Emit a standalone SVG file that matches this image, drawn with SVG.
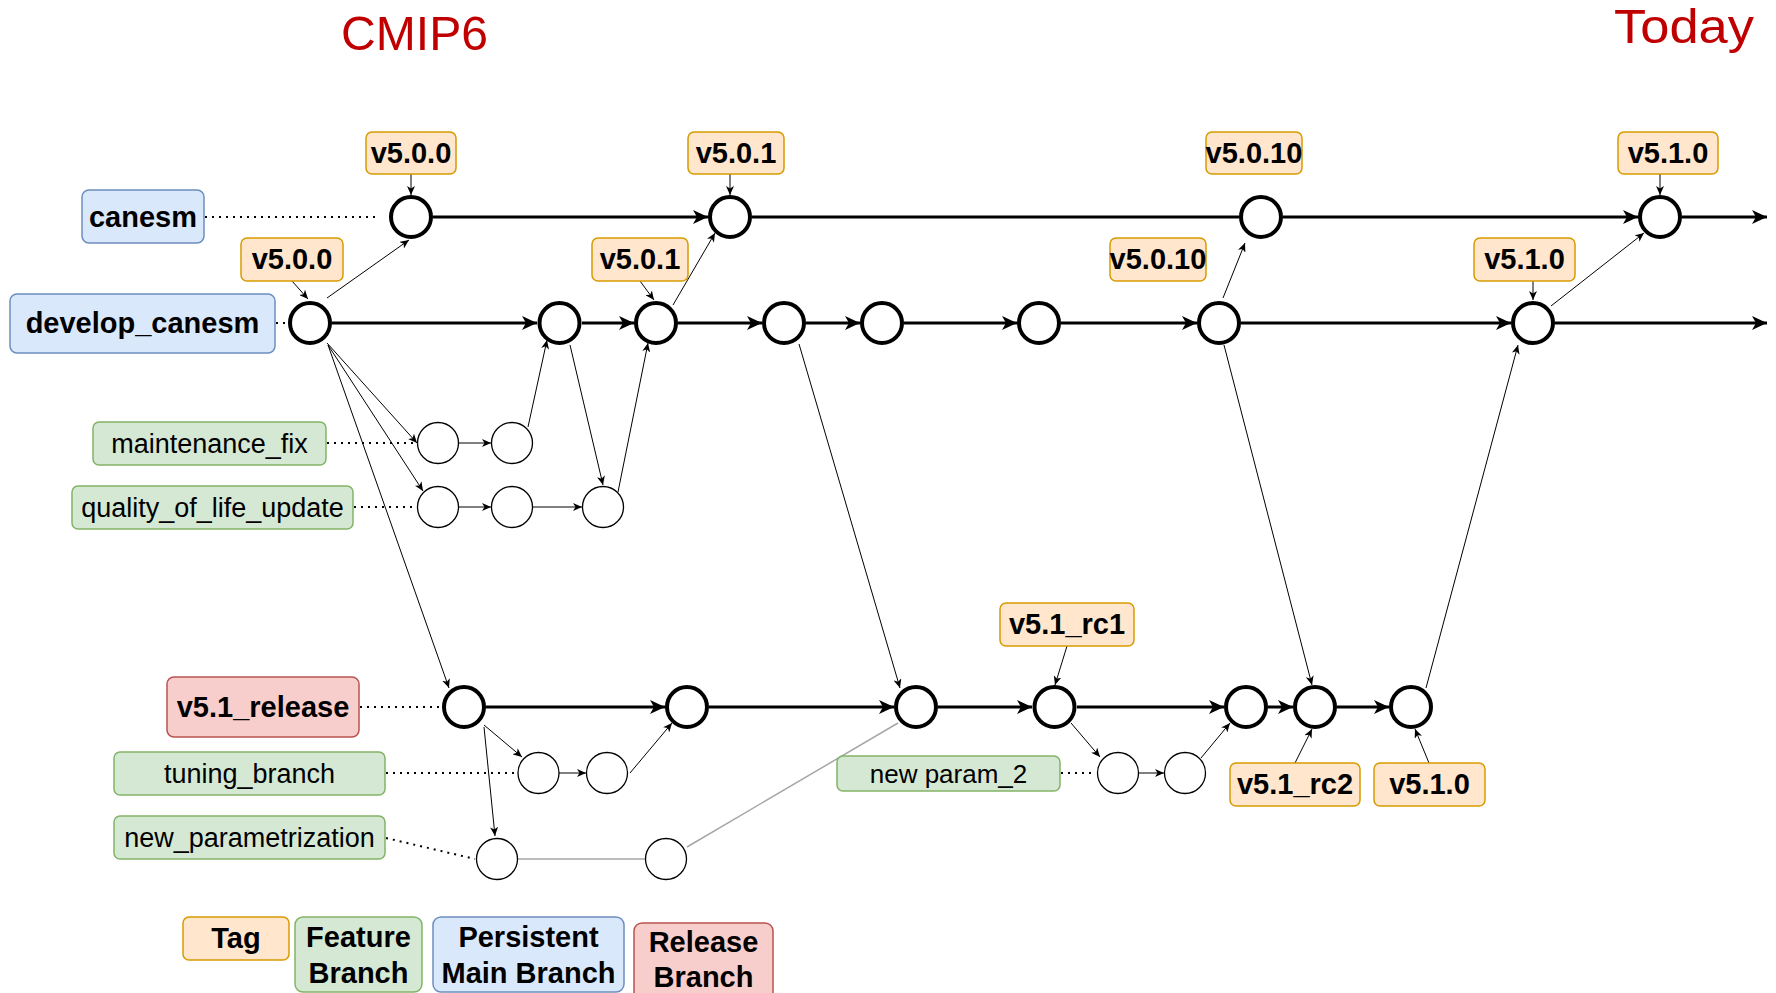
<svg xmlns="http://www.w3.org/2000/svg" width="1776" height="993" viewBox="0 0 1776 993">
<style>
text{font-family:"Liberation Sans",Arial,sans-serif;fill:#000}
.b{font-weight:bold;font-size:29px;text-anchor:middle}
.r{font-size:27px;text-anchor:middle}
.title{font-size:48px;fill:#C00000}
.tag{fill:#FFE6CC;stroke:#D79B00;stroke-width:1.5}
.feat{fill:#D5E8D4;stroke:#82B366;stroke-width:1.5}
.main{fill:#DAE8FC;stroke:#6C8EBF;stroke-width:1.5}
.rel{fill:#F8CECC;stroke:#B85450;stroke-width:1.5}
.bn{fill:#fff;stroke:#000;stroke-width:4}
.sn{fill:#fff;stroke:#000;stroke-width:1.3}
.bl{stroke:#000;stroke-width:3;fill:none}
.tl{stroke:#000;stroke-width:1;fill:none}
.dot{stroke:#000;stroke-width:2;stroke-dasharray:2 5;fill:none}
.gray{stroke:#A6A6A6;stroke-width:1.5;fill:none}
</style>
<defs>
<marker id="big" markerUnits="userSpaceOnUse" markerWidth="16" markerHeight="14" refX="15" refY="7" orient="auto">
<path d="M0,0 L15,7 L0,14 L4,7 z" fill="#000"/>
</marker>
<marker id="sm" markerUnits="userSpaceOnUse" markerWidth="10" markerHeight="8" refX="9" refY="4" orient="auto">
<path d="M0,0 L9,4 L0,8 L2.5,4 z" fill="#000"/>
</marker>
</defs>
<rect width="1776" height="993" fill="#fff"/>
<text class="title" x="341" y="50" textLength="147" lengthAdjust="spacingAndGlyphs">CMIP6</text>
<text class="title" x="1614" y="43" textLength="140" lengthAdjust="spacingAndGlyphs">Today</text>

<g id="connectors">
<line class="dot" x1="205" y1="217" x2="380" y2="217"/>
<line class="dot" x1="276" y1="323" x2="290" y2="323"/>
<line class="dot" x1="327" y1="443" x2="416" y2="443"/>
<line class="dot" x1="354" y1="507" x2="416" y2="507"/>
<line class="dot" x1="360" y1="707" x2="442" y2="707"/>
<line class="dot" x1="386" y1="773" x2="517" y2="773"/>
<line class="dot" x1="386" y1="838" x2="475" y2="859"/>
<line class="dot" x1="1061" y1="773" x2="1096" y2="773"/>
<line class="bl" x1="433" y1="217" x2="708" y2="217" marker-end="url(#big)"/>
<line class="bl" x1="752" y1="217" x2="1239" y2="217"/>
<line class="bl" x1="1283" y1="217" x2="1638" y2="217" marker-end="url(#big)"/>
<line class="bl" x1="1682" y1="217" x2="1767" y2="217" marker-end="url(#big)"/>
<line class="bl" x1="332" y1="323" x2="537" y2="323" marker-end="url(#big)"/>
<line class="bl" x1="582" y1="323" x2="634" y2="323" marker-end="url(#big)"/>
<line class="bl" x1="678" y1="323" x2="762" y2="323" marker-end="url(#big)"/>
<line class="bl" x1="806" y1="323" x2="860" y2="323" marker-end="url(#big)"/>
<line class="bl" x1="904" y1="323" x2="1017" y2="323" marker-end="url(#big)"/>
<line class="bl" x1="1061" y1="323" x2="1197" y2="323" marker-end="url(#big)"/>
<line class="bl" x1="1241" y1="323" x2="1511" y2="323" marker-end="url(#big)"/>
<line class="bl" x1="1555" y1="323" x2="1767" y2="323" marker-end="url(#big)"/>
<line class="bl" x1="486" y1="707" x2="665" y2="707" marker-end="url(#big)"/>
<line class="bl" x1="709" y1="707" x2="894" y2="707" marker-end="url(#big)"/>
<line class="bl" x1="938" y1="707" x2="1032" y2="707" marker-end="url(#big)"/>
<line class="bl" x1="1077" y1="707" x2="1224" y2="707" marker-end="url(#big)"/>
<line class="bl" x1="1268" y1="707" x2="1293" y2="707" marker-end="url(#big)"/>
<line class="bl" x1="1337" y1="707" x2="1389" y2="707" marker-end="url(#big)"/>
<line class="tl" x1="459" y1="443" x2="491" y2="443" marker-end="url(#sm)"/>
<line class="tl" x1="459" y1="507" x2="491" y2="507" marker-end="url(#sm)"/>
<line class="tl" x1="533" y1="507" x2="582" y2="507" marker-end="url(#sm)"/>
<line class="tl" x1="559" y1="773" x2="586" y2="773" marker-end="url(#sm)"/>
<line class="tl" x1="1139" y1="773" x2="1164" y2="773" marker-end="url(#sm)"/>
<line class="gray" x1="518" y1="859" x2="645" y2="859"/>
<line class="tl" x1="327" y1="298" x2="409" y2="240" marker-end="url(#sm)"/>
<line class="tl" x1="673" y1="305" x2="715" y2="233" marker-end="url(#sm)"/>
<line class="tl" x1="1223" y1="298" x2="1245" y2="243" marker-end="url(#sm)"/>
<line class="tl" x1="1551" y1="306" x2="1644" y2="233" marker-end="url(#sm)"/>
<line class="tl" x1="327" y1="343" x2="417" y2="443" marker-end="url(#sm)"/>
<line class="tl" x1="328" y1="345" x2="423" y2="491" marker-end="url(#sm)"/>
<line class="tl" x1="328" y1="345" x2="449" y2="688" marker-end="url(#sm)"/>
<line class="tl" x1="528" y1="427" x2="547" y2="340" marker-end="url(#sm)"/>
<line class="tl" x1="570" y1="345" x2="603" y2="485" marker-end="url(#sm)"/>
<line class="tl" x1="618" y1="492" x2="648" y2="343" marker-end="url(#sm)"/>
<line class="tl" x1="799" y1="344" x2="900" y2="688" marker-end="url(#sm)"/>
<line class="tl" x1="1224" y1="345" x2="1312" y2="685" marker-end="url(#sm)"/>
<line class="tl" x1="1426" y1="688" x2="1518" y2="345" marker-end="url(#sm)"/>
<line class="tl" x1="484" y1="725" x2="522" y2="757" marker-end="url(#sm)"/>
<line class="tl" x1="484" y1="727" x2="495" y2="836" marker-end="url(#sm)"/>
<line class="tl" x1="630" y1="773" x2="672" y2="723" marker-end="url(#sm)"/>
<line class="gray" x1="687" y1="847" x2="898" y2="723" stroke-width="1"/>
<line class="tl" x1="1071" y1="723" x2="1100" y2="757" marker-end="url(#sm)"/>
<line class="tl" x1="1201" y1="758" x2="1230" y2="723" marker-end="url(#sm)"/>
<line class="tl" x1="411" y1="174" x2="411" y2="195" marker-end="url(#sm)"/>
<line class="tl" x1="730" y1="174" x2="730" y2="195" marker-end="url(#sm)"/>
<line class="tl" x1="1660" y1="174" x2="1660" y2="195" marker-end="url(#sm)"/>
<line class="tl" x1="292" y1="281" x2="308" y2="299" marker-end="url(#sm)"/>
<line class="tl" x1="640" y1="281" x2="654" y2="300" marker-end="url(#sm)"/>
<line class="tl" x1="1533" y1="281" x2="1533" y2="300" marker-end="url(#sm)"/>
<line class="tl" x1="1067" y1="646" x2="1055" y2="685" marker-end="url(#sm)"/>
<line class="tl" x1="1295" y1="763" x2="1312" y2="729" marker-end="url(#sm)"/>
<line class="tl" x1="1429" y1="763" x2="1415" y2="729" marker-end="url(#sm)"/>
</g>

<g id="branch-labels">
<g id="lbl-canesm"><rect class="main" x="82" y="190" width="122" height="53" rx="7"/><text class="b" x="143" y="227">canesm</text></g>
<g id="lbl-develop"><rect class="main" x="10" y="294" width="265" height="59" rx="7"/><text class="b" x="142.5" y="333">develop_canesm</text></g>
<g id="lbl-maint"><rect class="feat" x="93" y="422" width="233" height="43" rx="6"/><text class="r" x="209.5" y="453">maintenance_fix</text></g>
<g id="lbl-qol"><rect class="feat" x="72" y="486" width="281" height="43" rx="6"/><text class="r" x="212.5" y="517">quality_of_life_update</text></g>
<g id="lbl-release"><rect class="rel" x="167" y="677" width="192" height="60" rx="7"/><text class="b" x="263" y="717">v5.1_release</text></g>
<g id="lbl-tuning"><rect class="feat" x="114" y="752" width="271" height="43" rx="6"/><text class="r" x="249.5" y="783">tuning_branch</text></g>
<g id="lbl-newparam"><rect class="feat" x="114" y="816" width="271" height="43" rx="6"/><text class="r" x="249.5" y="847">new_parametrization</text></g>
<g id="lbl-newparam2"><rect class="feat" x="837" y="756" width="223" height="35" rx="6"/><text class="r" x="948.5" y="783" style="font-size:26px">new param_2</text></g>
</g>

<g id="tags">
<g id="tag-c-500"><rect class="tag" x="366" y="132" width="90" height="42" rx="6"/><text class="b" x="411" y="163">v5.0.0</text></g>
<g id="tag-c-501"><rect class="tag" x="688" y="132" width="96" height="42" rx="6"/><text class="b" x="736" y="163">v5.0.1</text></g>
<g id="tag-c-5010"><rect class="tag" x="1206" y="132" width="96" height="42" rx="6"/><text class="b" x="1254" y="163">v5.0.10</text></g>
<g id="tag-c-510"><rect class="tag" x="1618" y="132" width="100" height="42" rx="6"/><text class="b" x="1668" y="163">v5.1.0</text></g>
<g id="tag-d-500"><rect class="tag" x="241" y="238" width="102" height="43" rx="6"/><text class="b" x="292" y="269">v5.0.0</text></g>
<g id="tag-d-501"><rect class="tag" x="592" y="238" width="96" height="43" rx="6"/><text class="b" x="640" y="269">v5.0.1</text></g>
<g id="tag-d-5010"><rect class="tag" x="1110" y="238" width="96" height="43" rx="6"/><text class="b" x="1158" y="269">v5.0.10</text></g>
<g id="tag-d-510"><rect class="tag" x="1474" y="238" width="101" height="43" rx="6"/><text class="b" x="1524.5" y="269">v5.1.0</text></g>
<g id="tag-rc1"><rect class="tag" x="1000" y="603" width="134" height="43" rx="6"/><text class="b" x="1067" y="634">v5.1_rc1</text></g>
<g id="tag-rc2"><rect class="tag" x="1230" y="763" width="130" height="43" rx="6"/><text class="b" x="1295" y="794">v5.1_rc2</text></g>
<g id="tag-r-510"><rect class="tag" x="1374" y="763" width="111" height="43" rx="6"/><text class="b" x="1429.5" y="794">v5.1.0</text></g>
</g>

<g id="nodes">
<g id="canesm-commits">
<circle class="bn" cx="411" cy="217" r="20"/><circle class="bn" cx="730" cy="217" r="20"/><circle class="bn" cx="1261" cy="217" r="20"/><circle class="bn" cx="1660" cy="217" r="20"/>
</g>
<g id="develop-commits">
<circle class="bn" cx="310" cy="323" r="20"/><circle class="bn" cx="559.5" cy="323" r="20"/><circle class="bn" cx="656" cy="323" r="20"/><circle class="bn" cx="784" cy="323" r="20"/><circle class="bn" cx="882" cy="323" r="20"/><circle class="bn" cx="1039" cy="323" r="20"/><circle class="bn" cx="1219" cy="323" r="20"/><circle class="bn" cx="1533" cy="323" r="20"/>
</g>
<g id="release-commits">
<circle class="bn" cx="464" cy="707" r="20"/><circle class="bn" cx="687" cy="707" r="20"/><circle class="bn" cx="916" cy="707" r="20"/><circle class="bn" cx="1054.5" cy="707" r="20"/><circle class="bn" cx="1246" cy="707" r="20"/><circle class="bn" cx="1315" cy="707" r="20"/><circle class="bn" cx="1411" cy="707" r="20"/>
</g>
<g id="feature-commits">
<circle class="sn" cx="438" cy="443" r="20.5"/><circle class="sn" cx="512" cy="443" r="20.5"/>
<circle class="sn" cx="438" cy="507" r="20.5"/><circle class="sn" cx="512" cy="507" r="20.5"/><circle class="sn" cx="603" cy="507" r="20.5"/>
<circle class="sn" cx="538.5" cy="773" r="20.5"/><circle class="sn" cx="607" cy="773" r="20.5"/>
<circle class="sn" cx="497" cy="859" r="20.5"/><circle class="sn" cx="666" cy="859" r="20.5"/>
<circle class="sn" cx="1118" cy="773" r="20.5"/><circle class="sn" cx="1185" cy="773" r="20.5"/>
</g>
</g>

<g id="legend">
<g id="leg-tag"><rect class="tag" x="183" y="917" width="106" height="43" rx="6"/><text class="b" x="236" y="948">Tag</text></g>
<g id="leg-feature"><rect class="feat" x="295" y="917" width="127" height="75" rx="8"/><text class="b" x="358.5" y="947">Feature</text><text class="b" x="358.5" y="983">Branch</text></g>
<g id="leg-main"><rect class="main" x="433" y="917" width="191" height="75" rx="8"/><text class="b" x="528.5" y="947">Persistent</text><text class="b" x="528.5" y="983">Main Branch</text></g>
<g id="leg-release"><rect class="rel" x="634" y="923" width="139" height="80" rx="8"/><text class="b" x="703.5" y="952">Release</text><text class="b" x="703.5" y="987">Branch</text></g>
</g>
</svg>
